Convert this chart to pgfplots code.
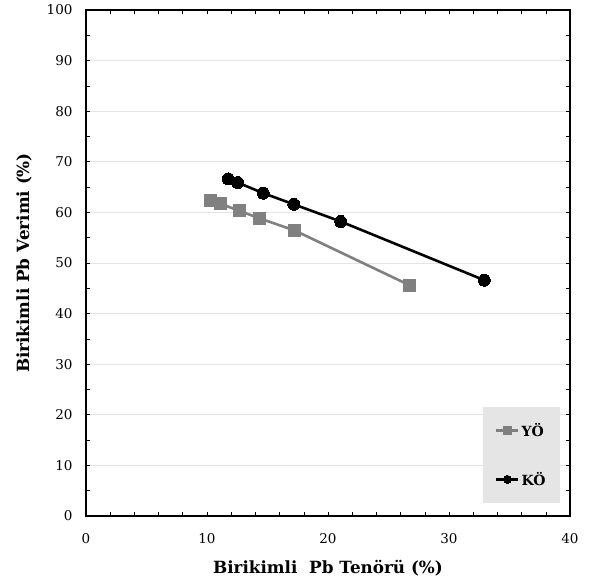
\documentclass[border=0pt]{standalone}
\usepackage{pgfplots}
\pgfplotsset{compat=1.18}
\usepackage{fontspec}
\setmainfont{DejaVu Serif}
\definecolor{serg}{HTML}{808080}
\begin{document}
\begin{tikzpicture}
\begin{axis}[
  scale only axis,
  width=484pt, height=506pt,
  xmin=0, xmax=40, ymin=0, ymax=100,
  xtick={0,10,20,30,40}, ytick={0,10,...,100},
  minor x tick num=4, minor y tick num=1,
  tick align=inside,
  major tick length=4pt, minor tick length=4pt,
  ymajorgrids, major grid style={draw=black!10, line width=0.9pt},
  axis line style={line width=1.8pt},
  tick style={black, line width=0.6pt},
  /pgf/number format/assume math mode=true,
  ticklabel style={font=\fontsize{13.5}{15}\selectfont},
  xticklabel style={yshift=-14pt},
  yticklabel style={xshift=-10pt},
  xlabel={\textbf{Birikimli\ \ Pb Tenörü (\%)}},
  ylabel={\textbf{Birikimli Pb Verimi (\%)}},
  label style={font=\fontsize{16.8}{19}\selectfont},
  xlabel style={yshift=-10pt},
  ylabel style={yshift=8pt},
  legend style={at={(0.979,0.026)}, anchor=south east, fill=black!10, draw=none,
    font=\fontsize{14}{16}\selectfont\bfseries, inner xsep=12pt, inner ysep=14pt,
    row sep=30pt},
  legend cell align=left,
  legend image code/.code={\draw[#1, mark size=4pt] (0pt,0pt) -- (11pt,0pt) plot coordinates {(11pt,0pt)} -- (22pt,0pt);},
]
\addplot[color=serg, line width=2.6pt, mark=square*, mark size=6pt, mark options={fill=serg, draw=serg, line width=0pt}] coordinates {
(10.3,62.3) (11.13,61.7) (12.67,60.3) (14.38,58.8) (17.27,56.4) (26.7,45.65)};
\addlegendentry{YÖ}
\addplot[color=black, line width=2.6pt, mark=*, mark size=6pt, mark options={line width=0pt}] coordinates {
(11.76,66.6) (12.54,65.9) (14.65,63.8) (17.17,61.6) (21.05,58.2) (32.92,46.6)};
\addlegendentry{KÖ}
\end{axis}
\pgfresetboundingbox
\path ([shift={(-86pt,-67pt)}]current axis.south west) rectangle ([shift={(21pt,10pt)}]current axis.north east);
\end{tikzpicture}
\end{document}
